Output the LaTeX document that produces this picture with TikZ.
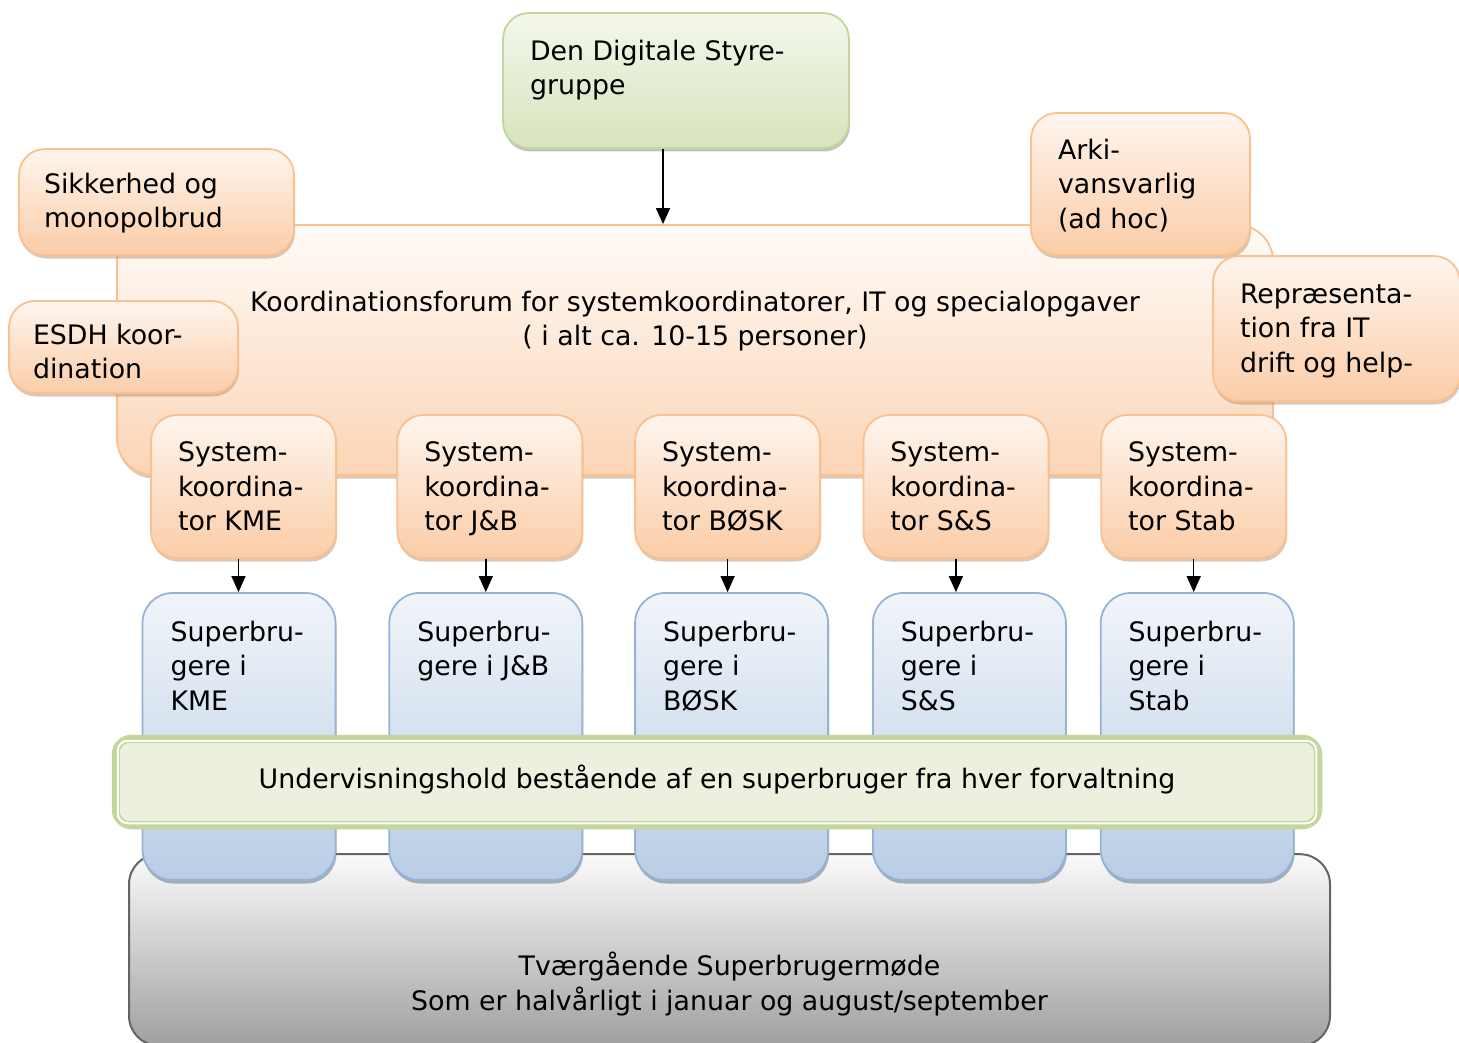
\documentclass[tikz,border=0pt]{standalone}
\usepackage{fontspec}
\setmainfont{DejaVu Sans}
\usepackage{xcolor}
\usetikzlibrary{arrows.meta, positioning, shadows, calc}
\definecolor{orangeline}{RGB}{250,192,143}
\definecolor{orangefill}{RGB}{251,205,168}
\definecolor{orangelight}{RGB}{254,245,238}
\definecolor{greenline}{RGB}{195,214,155}
\definecolor{greenfill}{RGB}{215,228,189}
\definecolor{bandfill}{RGB}{235,241,222}
\definecolor{blueline}{RGB}{149,179,215}
\definecolor{bluefill}{RGB}{185,205,229}
\definecolor{grayline}{RGB}{100,100,100}
\definecolor{grayfill}{RGB}{160,160,160}
\newcommand{\boxtext}[4][t]{\parbox[c][#3][#1]{#2}{#4}}

\begin{document}
\begin{tikzpicture}[
    x=1pt, y=-1pt,
    font=\fontsize{26.8pt}{34.5pt}\selectfont,
    base/.style={rectangle, rounded corners=26pt, line width=1.8pt, inner xsep=27pt},
    orangebox/.style={base, draw=orangeline, top color=orangelight, bottom color=orangefill,
        drop shadow={shadow xshift=1pt, shadow yshift=-3.5pt, fill=orangeline!70!black, opacity=0.45}},
    greenbox/.style={base, draw=greenline, top color=white!70!greenfill, bottom color=greenfill,
        drop shadow={shadow xshift=1pt, shadow yshift=-3.5pt, fill=greenline!60!black, opacity=0.45}},
    bluebox/.style={base, rounded corners=30pt, draw=blueline, top color=white!80!bluefill, bottom color=bluefill, inner xsep=28pt, inner ysep=28pt,
        drop shadow={shadow xshift=1pt, shadow yshift=-3.5pt, fill=blueline!60!black, opacity=0.5}},
    sysbox/.style={orangebox, inner ysep=27pt},
    bandbox/.style={rectangle, rounded corners=16pt, draw=greenline, line width=7.5pt, fill=bandfill, inner xsep=10pt, inner ysep=26.5pt},
    graybox/.style={rectangle, rounded corners=30pt, draw=grayline, line width=2pt, top color=white!95!grayfill, bottom color=grayfill, inner xsep=10pt, inner ysep=30pt},
    arrow/.style={line width=1.5pt, -{Stealth[length=16pt, width=14pt, inset=0pt]}}
]
\path[use as bounding box] (0,0) rectangle (1459,1043);
\clip (0,0) rectangle (1459,1043);

% Koordinationsforum
\node[orangebox, rounded corners=36pt, inner xsep=10pt, inner ysep=66pt, top color=white!92!orangefill, bottom color=orangefill!85!white] (forum) at (695,350)
    {\boxtext{1136pt}{118pt}{\centering Koordinationsforum for systemkoordinatorer, IT og specialopgaver\\( i alt ca. 10-15 personer)}};

% Styregruppe
\node[greenbox, inner ysep=27pt] (styre) at (676,80.5)
    {\boxtext{292pt}{81pt}{Den Digitale Styre-\\gruppe}};

% Side groups
\node[orangebox, inner xsep=25pt, inner ysep=24pt] (sikker) at (156.5,202)
    {\boxtext{225pt}{58pt}{Sikkerhed og\\monopolbrud}};
\node[orangebox, inner xsep=24pt, inner ysep=23pt] (esdh) at (123.5,347)
    {\boxtext{181pt}{46pt}{ESDH koor-\\dination}};
\node[orangebox, inner ysep=26pt] (arkiv) at (1140.5,184)
    {\boxtext{165pt}{90pt}{Arki-\\vansvarlig\\(ad hoc)}};
\node[orangebox, inner ysep=27.5pt] (repr) at (1336.5,328.5)
    {\boxtext{193pt}{90pt}{Repræsenta-\\tion fra IT\\drift og help-}};

% Systemkoordinatorer
\node[sysbox] (sysKME) at (243.5,486.5) {\boxtext{131pt}{89pt}{System-\\koordina-\\tor KME}};
\node[sysbox, right=59.5pt of sysKME] (sysJB) {\boxtext{131pt}{89pt}{System-\\koordina-\\tor J\&B}};
\node[sysbox, right=51pt of sysJB] (sysBOSK) {\boxtext{131pt}{89pt}{System-\\koordina-\\tor BØSK}};
\node[sysbox, right=41.5pt of sysBOSK] (sysSS) {\boxtext{131pt}{89pt}{System-\\koordina-\\tor S\&S}};
\node[sysbox, right=51pt of sysSS] (sysStab) {\boxtext{131pt}{89pt}{System-\\koordina-\\tor Stab}};

% Tvaergaende moede
\node[graybox] (moede) at (729.5,950)
    {\boxtext[b]{1181pt}{126pt}{\centering Tværgående Superbrugermøde\\Som er halvårligt i januar og august/september}};

% Superbrugere
\node[bluebox] (sbKME) at (239,736.5) {\boxtext{137pt}{231pt}{Superbru-\\gere i\\KME}};
\node[bluebox, right=52pt of sbKME] (sbJB) {\boxtext{137pt}{231pt}{Superbru-\\gere i J\&B}};
\node[bluebox, right=51pt of sbJB] (sbBOSK) {\boxtext{137pt}{231pt}{Superbru-\\gere i\\BØSK}};
\node[bluebox, right=43pt of sbBOSK] (sbSS) {\boxtext{137pt}{231pt}{Superbru-\\gere i\\S\&S}};
\node[bluebox, right=33pt of sbSS] (sbStab) {\boxtext{137pt}{231pt}{Superbru-\\gere i\\Stab}};

% Undervisningshold
\node[bandbox] (hold) at (717,782)
    {\boxtext{1183pt}{34pt}{\centering Undervisningshold bestående af en superbruger fra hver forvaltning}};
\draw[greenline, line width=1.2pt, double=white, double distance=2pt, rounded corners=10pt]
    ([shift={(6,6)}]hold.north west) rectangle ([shift={(-6,-6)}]hold.south east);

% Arrows
\draw[arrow] ([xshift=-13pt]styre.south) -- ([xshift=-13pt]styre.south |- forum.north);
\draw[arrow] ([xshift=-5pt]sysKME.south) -- ([xshift=-5pt]sysKME.south |- sbKME.north);
\draw[arrow] ([xshift=-4pt]sysJB.south) -- ([xshift=-4pt]sysJB.south |- sbJB.north);
\draw[arrow] (sysBOSK.south) -- (sysBOSK.south |- sbBOSK.north);
\draw[arrow] (sysSS.south) -- (sysSS.south |- sbSS.north);
\draw[arrow] (sysStab.south) -- (sysStab.south |- sbStab.north);

\end{tikzpicture}
\end{document}
